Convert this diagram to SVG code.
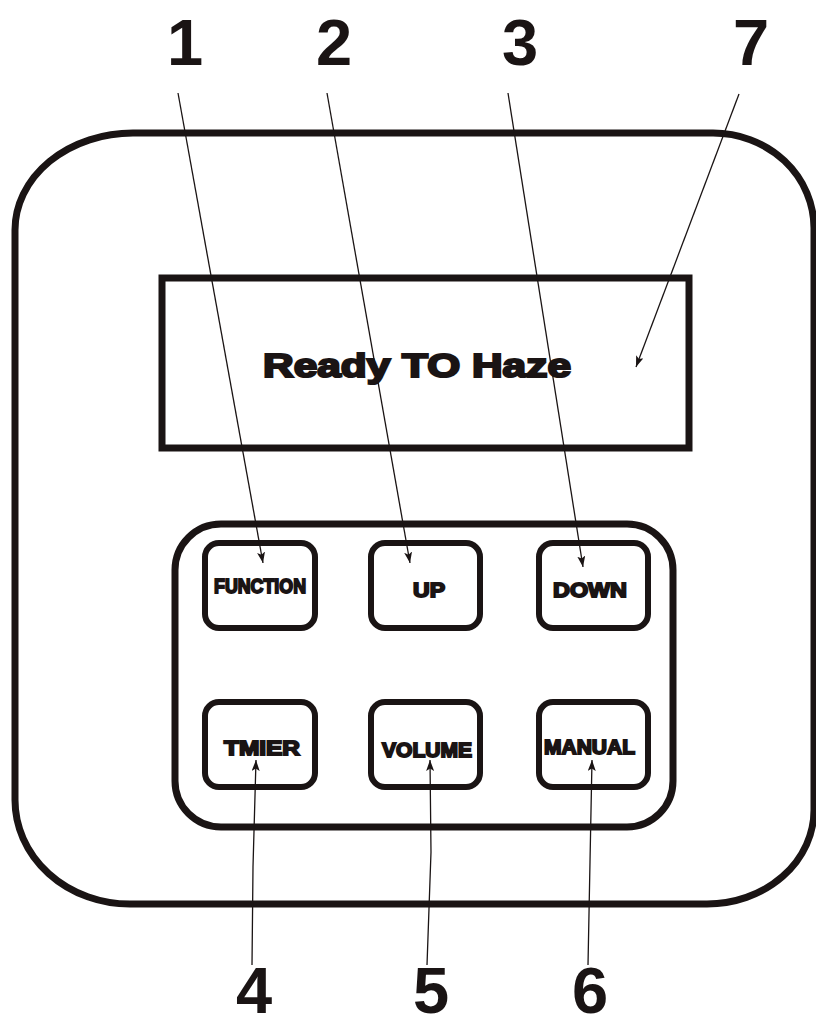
<svg xmlns="http://www.w3.org/2000/svg" width="816" height="1015" viewBox="0 0 816 1015">
<style>
.frame{fill:none;stroke:#1a1414;stroke-width:7}
.btn{fill:none;stroke:#1a1414;stroke-width:6}
.num{font-family:"Liberation Sans",Arial,sans-serif;font-weight:bold;font-size:65px;fill:#1a1414;text-anchor:middle}
.lbl{font-family:"Liberation Sans",Arial,sans-serif;font-weight:bold;font-size:20px;fill:#1a1414;stroke:#1a1414;stroke-width:1.8}
.big{font-family:"Liberation Sans",Arial,sans-serif;font-weight:bold;font-size:34px;fill:#1a1414;stroke:#1a1414;stroke-width:2.2}
.lead{fill:none;stroke:#1a1414;stroke-width:1.3}
</style>
<defs>
<marker id="ah" markerWidth="11" markerHeight="8" refX="11" refY="4" orient="auto" markerUnits="userSpaceOnUse">
<path d="M0,0 L11,4 L0,8 L2.5,4 Z" fill="#1a1414"/>
</marker>
</defs>
<rect width="816" height="1015" fill="#ffffff"/>
<g id="housing">
<path class="frame" d="M133,133 L713,133 A101,95 0 0 1 814,228 L814,810 A107,94 0 0 1 707,904 L130,904 A115,104 0 0 1 15,800 L15,230 A118,97 0 0 1 133,133 Z"/>
</g>
<g id="display">
<rect class="frame" x="162" y="278" width="527" height="170"/>
<text class="big" x="263" y="377" textLength="308" lengthAdjust="spacingAndGlyphs">Ready TO Haze</text>
</g>
<g id="keypad">
<rect class="frame" x="175" y="524" width="498" height="303" rx="46" ry="46"/>
</g>
<g id="btn-function">
<rect class="btn" x="205" y="543" width="110" height="85" rx="14"/>
<text class="lbl" x="214" y="593" textLength="92" lengthAdjust="spacingAndGlyphs">FUNCTION</text>
</g>
<g id="btn-up">
<rect class="btn" x="371" y="543" width="109" height="85" rx="14"/>
<text class="lbl" x="413" y="597" textLength="32" lengthAdjust="spacingAndGlyphs">UP</text>
</g>
<g id="btn-down">
<rect class="btn" x="539" y="543" width="109" height="85" rx="14"/>
<text class="lbl" x="553" y="597" textLength="74" lengthAdjust="spacingAndGlyphs">DOWN</text>
</g>
<g id="btn-timer">
<rect class="btn" x="205" y="702" width="110" height="85" rx="14"/>
<text class="lbl" x="224" y="755" textLength="76" lengthAdjust="spacingAndGlyphs">TMIER</text>
</g>
<g id="btn-volume">
<rect class="btn" x="371" y="702" width="109" height="85" rx="14"/>
<text class="lbl" x="382" y="757" textLength="90" lengthAdjust="spacingAndGlyphs">VOLUME</text>
</g>
<g id="btn-manual">
<rect class="btn" x="539" y="702" width="109" height="85" rx="14"/>
<text class="lbl" x="544" y="754" textLength="91" lengthAdjust="spacingAndGlyphs">MANUAL</text>
</g>
<g id="labels">
<text class="num" x="185" y="65">1</text>
<text class="num" x="334" y="65">2</text>
<text class="num" x="520" y="65">3</text>
<text class="num" x="751" y="65">7</text>
<text class="num" x="254" y="1013">4</text>
<text class="num" x="431" y="1013">5</text>
<text class="num" x="590" y="1013">6</text>
</g>
<g id="connectors">
<line class="lead" x1="178" y1="93" x2="263" y2="563" marker-end="url(#ah)"/>
<line class="lead" x1="327" y1="93" x2="410" y2="563" marker-end="url(#ah)"/>
<line class="lead" x1="508" y1="93" x2="583" y2="567" marker-end="url(#ah)"/>
<line class="lead" x1="739" y1="94" x2="636" y2="367" marker-end="url(#ah)"/>
<polyline class="lead" points="252,965 253,867 256,760" marker-end="url(#ah)"/>
<polyline class="lead" points="427,965 431,852 430,760" marker-end="url(#ah)"/>
<polyline class="lead" points="588,965 590,862 592,760" marker-end="url(#ah)"/>
</g>
</svg>
